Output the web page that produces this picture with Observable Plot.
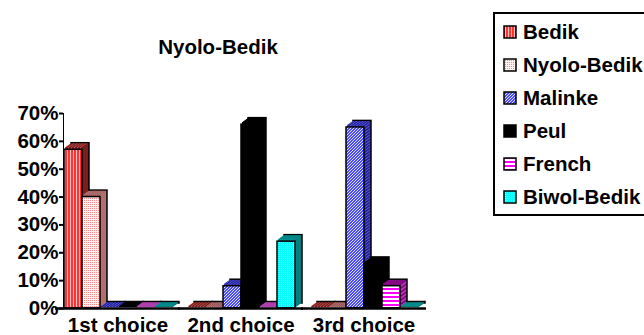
<!DOCTYPE html>
<html>
<head>
<meta charset="utf-8">
<script src="https://cdn.jsdelivr.net/npm/d3@7"></script>
<script src="https://cdn.jsdelivr.net/npm/@observablehq/plot@0.6"></script>
<style>
  html, body { margin: 0; padding: 0; background: #fff; }
  #wrap { position: relative; width: 644px; height: 335px; overflow: hidden; font-family: "Liberation Sans", Arial, sans-serif; font-weight: bold; }
  #title { position: absolute; left: 0; width: 436px; top: 35px; text-align: center; font-size: 20.5px; }
  #legend { position: absolute; left: 493px; top: 12px; width: 210px; height: 204px; border: 2px solid #000; box-sizing: border-box; }
  .item { position: absolute; left: 8px; height: 22px; display: flex; align-items: center; font-size: 20.5px; white-space: nowrap; }
  .item svg { margin-right: 6px; }
  #plot { position: absolute; left: 0; top: 0; }
  #plot g[aria-label="y-axis tick"] path, #plot g[aria-label="y-axis line"] line { stroke-width: 2; }
</style>
</head>
<body>
<svg width="0" height="0" style="position:absolute">
  <defs>
    <pattern id="pBedik" width="3" height="4" patternUnits="userSpaceOnUse">
      <rect width="3" height="4" fill="#ff3333"/><rect x="2" width="1" height="4" fill="#ffc0c0"/>
    </pattern>
    <pattern id="sBedik" width="3" height="4" patternUnits="userSpaceOnUse">
      <rect width="3" height="4" fill="#7a1f1f"/><rect x="2" width="1" height="4" fill="#c05050"/>
    </pattern>
    <pattern id="pNyolo" width="2" height="2" patternUnits="userSpaceOnUse">
      <rect width="2" height="2" fill="#fff0f0"/><rect width="1" height="1" fill="#ff8a8a"/>
    </pattern>
    <pattern id="sNyolo" width="2" height="2" patternUnits="userSpaceOnUse">
      <rect width="2" height="2" fill="#b07070"/><rect width="1" height="1" fill="#803838"/>
    </pattern>
    <pattern id="pMalinke" width="3" height="3" patternUnits="userSpaceOnUse">
      <rect width="3" height="3" fill="#4a4aff"/><path d="M0,3 L3,0" stroke="#e0e0ff" stroke-width="1"/>
    </pattern>
    <pattern id="sMalinke" width="3" height="3" patternUnits="userSpaceOnUse">
      <rect width="3" height="3" fill="#2020a0"/><path d="M0,3 L3,0" stroke="#6060d0" stroke-width="1"/>
    </pattern>
    <pattern id="pFrench" width="4" height="4" patternUnits="userSpaceOnUse">
      <rect width="4" height="4" fill="#ff00ff"/><rect y="2" width="4" height="2" fill="#ffffff"/>
    </pattern>
    <pattern id="sFrench" width="4" height="4" patternUnits="userSpaceOnUse">
      <rect width="4" height="4" fill="#800080"/><rect y="2" width="4" height="2" fill="#b040b0"/>
    </pattern>
    <pattern id="pBiwol" width="2" height="2" patternUnits="userSpaceOnUse">
      <rect width="2" height="2" fill="#00ffff"/><rect width="1" height="1" fill="#b0ffff"/>
    </pattern>
    <pattern id="sBiwol" width="2" height="2" patternUnits="userSpaceOnUse">
      <rect width="2" height="2" fill="#008080"/><rect width="1" height="1" fill="#00a0a0"/>
    </pattern>
  </defs>
</svg>
<div id="wrap">
  <div id="plot"></div>
  <div id="title">Nyolo-Bedik</div>
  <div id="legend"></div>
</div>
<script>
// ---- data ----
const choices = ["1st choice", "2nd choice", "3rd choice"];
const languages = ["Bedik", "Nyolo-Bedik", "Malinke", "Peul", "French", "Biwol-Bedik"];
const bedik = [57, 0, 0];
const nyoloBedik = [40, 0, 0];
const malinke = [0, 8, 65];
const peul = [0, 66, 16];
const french = [0, 0, 8];
const biwolBedik = [0, 24, 0];
const yTicks = [0, 10, 20, 30, 40, 50, 60, 70];

const series = [bedik, nyoloBedik, malinke, peul, french, biwolBedik];
const frontFill = {"Bedik": "url(#pBedik)", "Nyolo-Bedik": "url(#pNyolo)", "Malinke": "url(#pMalinke)", "Peul": "#000000", "French": "url(#pFrench)", "Biwol-Bedik": "url(#pBiwol)"};
const sideFill = {"Bedik": "url(#sBedik)", "Nyolo-Bedik": "url(#sNyolo)", "Malinke": "url(#sMalinke)", "Peul": "#000000", "French": "url(#sFrench)", "Biwol-Bedik": "url(#sBiwol)"};

const rows = [];
choices.forEach((c, i) => languages.forEach((l, j) => rows.push({choice: c, lang: l, value: series[j][i]})));

// extrusion layers (depth effect), farthest first
const depth = 7;
const layers = [];
for (let k = depth; k >= 1; k--) {
  layers.push(Plot.barY(rows, {
    fx: "choice", x: "lang", y: "value",
    fill: d => sideFill[d.lang],
    stroke: k === depth ? "#000" : "none", strokeWidth: 1.5,
    insetTop: -1.5,
    dx: k, dy: -k * 5 / 7
  }));
}

const chart = Plot.plot({
  width: 644,
  height: 335,
  marginTop: 113,
  marginBottom: 27,
  marginLeft: 55,
  marginRight: 218,
  style: {fontFamily: "'Liberation Sans', Arial, sans-serif", fontSize: "20.5px", fontWeight: "bold", color: "#000", background: "transparent", overflow: "visible"},
  color: {type: "identity"},
  fx: {domain: choices, paddingInner: 0.114, paddingOuter: 0.065, label: null, axis: "bottom", tickSize: 0, tickPadding: 9},
  x: {domain: languages, padding: 0, axis: null},
  y: {domain: [0, 70], ticks: yTicks, tickFormat: d => d + "%", label: null, tickSize: 4, tickPadding: 1, line: true},
  marks: [
    ...layers,
    Plot.barY(rows, {fx: "choice", x: "lang", y: "value", fill: d => frontFill[d.lang], stroke: "#000", strokeWidth: 1.5}),
    Plot.ruleY([0], {stroke: "#000", strokeWidth: 2.5, insetLeft: -8, insetRight: -8})
  ]
});
document.getElementById("plot").appendChild(chart);

// legend
const legend = document.getElementById("legend");
languages.forEach((l, j) => {
  const div = document.createElement("div");
  div.className = "item";
  div.style.top = (7 + j * 33) + "px";
  div.innerHTML = `<svg width="14" height="14"><rect x="1" y="1" width="12" height="12" fill="${frontFill[l]}" stroke="#000" stroke-width="1.5"/></svg><span>${l}</span>`;
  legend.appendChild(div);
});
</script>
</body>
</html>
